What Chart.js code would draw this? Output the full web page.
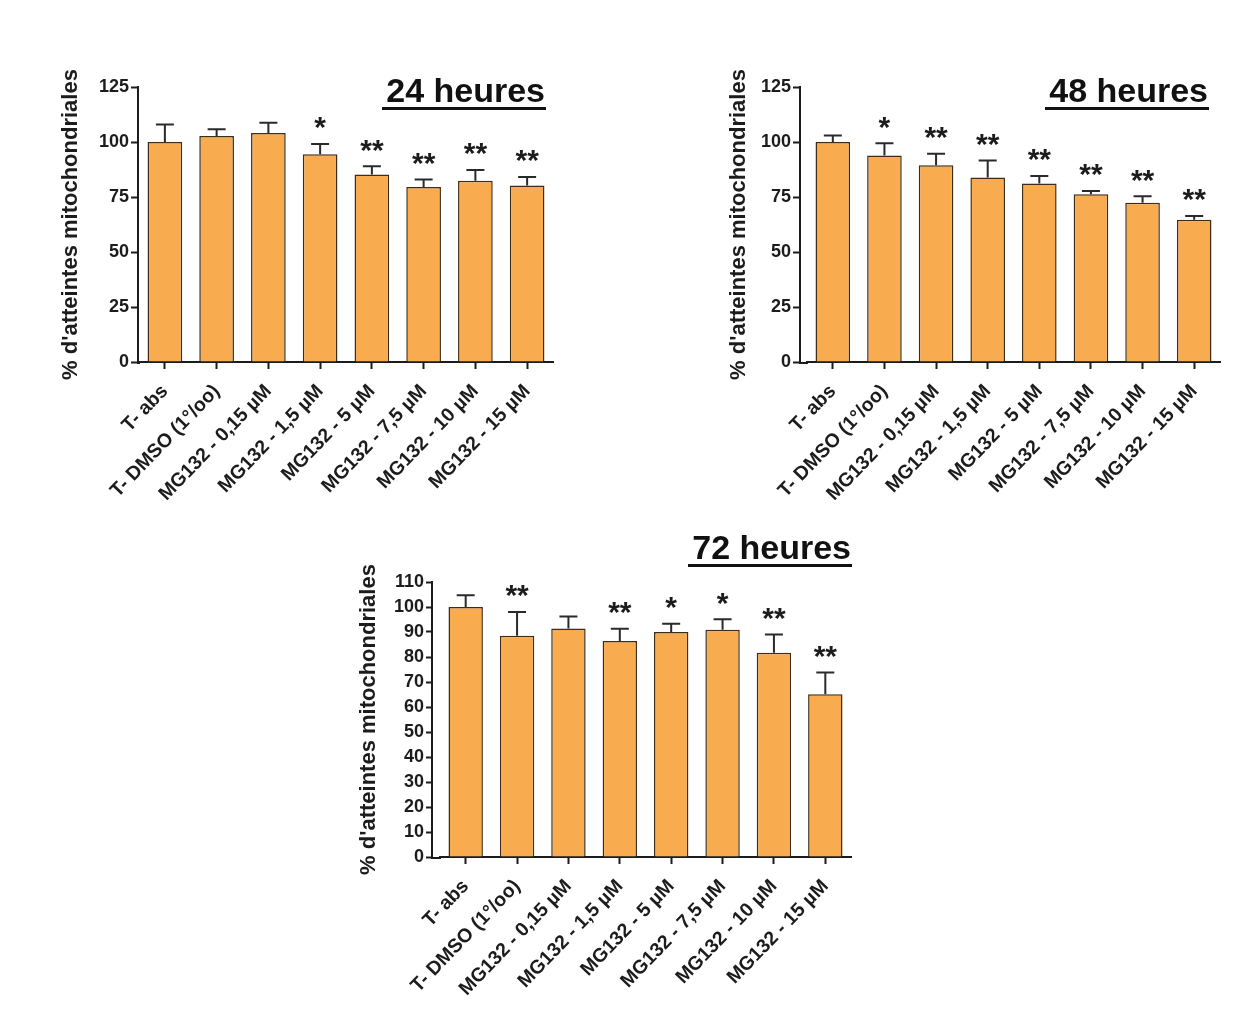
<!DOCTYPE html>
<html>
<head>
<meta charset="utf-8">
<script src="https://cdn.jsdelivr.net/npm/chart.js@4.4.1/dist/chart.umd.min.js"></script>
<style>
  html, body { margin:0; padding:0; background:#fff; }
  body { width:1242px; height:1032px; position:relative; overflow:hidden;
         font-family:"Liberation Sans", Arial, sans-serif; }
  .box { position:absolute; }
  .ttl { position:absolute; font-weight:bold; font-size:34px; line-height:34px; color:#111;
         border-bottom:3px solid #111; padding-left:4px; padding-right:1px; white-space:nowrap; }
</style>
</head>
<body>
<div class="box" style="left:0;top:0;width:621px;height:516px"><canvas id="c24"></canvas></div>
<div class="box" style="left:621px;top:0;width:621px;height:516px"><canvas id="c48"></canvas></div>
<div class="box" style="left:300px;top:516px;width:640px;height:516px"><canvas id="c72"></canvas></div>
<div class="ttl" style="right:696px;top:73px">24 heures</div>
<div class="ttl" style="right:33px;top:73px">48 heures</div>
<div class="ttl" style="right:390px;top:530px">72 heures</div>

<script>
/* ---------- données ---------- */
const categories = ['T- abs', 'T- DMSO (1°/oo)', 'MG132 - 0,15 µM', 'MG132 - 1,5 µM',
                    'MG132 - 5 µM', 'MG132 - 7,5 µM', 'MG132 - 10 µM', 'MG132 - 15 µM'];

const mean24 = [100, 102.7, 104.1, 94.4, 85.2, 79.5, 82.4, 80.2];
const sem24  = [8.0, 3.1, 4.7, 4.7, 3.8, 3.4, 4.9, 3.9];
const sig24  = ['', '', '', '*', '**', '**', '**', '**'];

const mean48 = [100, 93.9, 89.4, 83.9, 81.1, 76.2, 72.4, 64.7];
const sem48  = [3.0, 5.5, 5.3, 7.7, 3.5, 1.5, 2.9, 1.7];
const sig48  = ['', '*', '**', '**', '**', '**', '**', '**'];

const mean72 = [100, 88.5, 91.4, 86.4, 90.0, 90.9, 81.7, 65.1];
const sem72  = [4.7, 9.5, 4.8, 4.9, 3.3, 4.2, 7.3, 8.7];
const sig72  = ['', '**', '', '**', '*', '*', '**', '**'];

const yTitle = "% d'atteintes mitochondriales";
const yMax24 = 125, yStep24 = 25;
const yMax48 = 125, yStep48 = 25;
const yMax72 = 110, yStep72 = 10;

/* ---------- style ---------- */
const FONT = '"Liberation Sans", Arial, sans-serif';
const INK = '#1c1c1c';
const BAR = '#F8AB4F';
const BAR_EDGE = '#3d2c18';
Chart.defaults.font.family = FONT;
Chart.defaults.color = INK;

/* écart entre l'axe Y et la première catégorie */
const gapPlugin = {
  id: 'axisGap',
  afterLayout(chart, args, opts) {
    const g = opts.gap || 0;
    if (!g) return;
    const x = chart.scales.x;
    x.left += g; x.width -= g;
    x.configure();
  },
  afterDraw(chart, args, opts) {
    const g = opts.gap || 0;
    if (!g) return;
    const {ctx, chartArea} = chart, x = chart.scales.x;
    ctx.save();
    ctx.strokeStyle = INK; ctx.lineWidth = 2;
    ctx.beginPath();
    ctx.moveTo(chartArea.left - 1, x.top + 1);
    ctx.lineTo(x.left + 1, x.top + 1);
    ctx.stroke();
    ctx.restore();
  }
};

/* barres d'erreur (SEM vers le haut) + étoiles */
const errPlugin = {
  id: 'errbars',
  afterDatasetsDraw(chart, args, opts) {
    const {ctx} = chart, y = chart.scales.y;
    const meta = chart.getDatasetMeta(0);
    const vals = chart.data.datasets[0].data;
    ctx.save();
    ctx.strokeStyle = '#2a2a2a'; ctx.lineWidth = 2;
    ctx.font = 'bold 30px ' + FONT;
    ctx.fillStyle = INK; ctx.textAlign = 'center'; ctx.textBaseline = 'alphabetic';
    meta.data.forEach((bar, i) => {
      const top = y.getPixelForValue(vals[i] + opts.err[i]);
      ctx.beginPath();
      ctx.moveTo(bar.x, bar.y); ctx.lineTo(bar.x, top);
      ctx.moveTo(bar.x - 9, top); ctx.lineTo(bar.x + 9, top);
      ctx.stroke();
      if (opts.sig[i]) ctx.fillText(opts.sig[i], bar.x, top - 24 + 0.58 * 30);
    });
    ctx.restore();
  }
};

function makeChart(id, geo, means, sems, sigs, yMax, yStep) {
  const XH = 150;
  return new Chart(document.getElementById(id), {
    type: 'bar',
    data: {
      labels: categories,
      datasets: [{
        data: means,
        backgroundColor: BAR,
        borderColor: BAR_EDGE,
        borderWidth: 1.5,
        barPercentage: 0.67,
        categoryPercentage: 1
      }]
    },
    options: {
      responsive: true, maintainAspectRatio: false, animation: false,
      layout: { padding: { left: geo.axisX - geo.yw, right: geo.w - geo.right,
                           top: geo.top, bottom: geo.h - geo.bottom - XH } },
      plugins: {
        legend: { display: false }, tooltip: { enabled: false },
        axisGap: { gap: geo.gap },
        errbars: { err: sems, sig: sigs }
      },
      scales: {
        x: {
          offset: true,
          grid: { display: true, drawOnChartArea: false, offset: false,
                  tickLength: 7, tickWidth: 2, tickColor: INK },
          border: { display: true, width: 2, color: INK },
          ticks: { autoSkip: false, maxRotation: 46, minRotation: 46, padding: 11,
                   color: INK, font: { size: 19.5, weight: 'bold' } },
          afterFit: s => { s.height = XH; }
        },
        y: {
          min: 0, max: yMax,
          grid: { display: true, drawOnChartArea: false,
                  tickLength: geo.tl, tickWidth: 2, tickColor: INK },
          border: { display: true, width: 2, color: INK },
          ticks: { stepSize: yStep, padding: 2, color: INK,
                   font: { size: 18, weight: 'bold' } },
          title: { display: true, text: yTitle, color: INK, padding: 0,
                   font: { size: 22, weight: 'bold' } },
          afterFit: s => { s.width = geo.yw; }
        }
      }
    },
    plugins: [gapPlugin, errPlugin]
  });
}

makeChart('c24', { w: 621, h: 516, axisX: 138, gap: 1, right: 553, top: 87, bottom: 362, yw: 80, tl: 7 },
          mean24, sem24, sig24, yMax24, yStep24);
makeChart('c48', { w: 621, h: 516, axisX: 179, gap: 7, right: 599, top: 87, bottom: 362, yw: 74, tl: 7 },
          mean48, sem48, sig48, yMax48, yStep48);
makeChart('c72', { w: 640, h: 516, axisX: 132, gap: 8, right: 551, top: 66, bottom: 341, yw: 76, tl: 6 },
          mean72, sem72, sig72, yMax72, yStep72);
</script>
</body>
</html>
